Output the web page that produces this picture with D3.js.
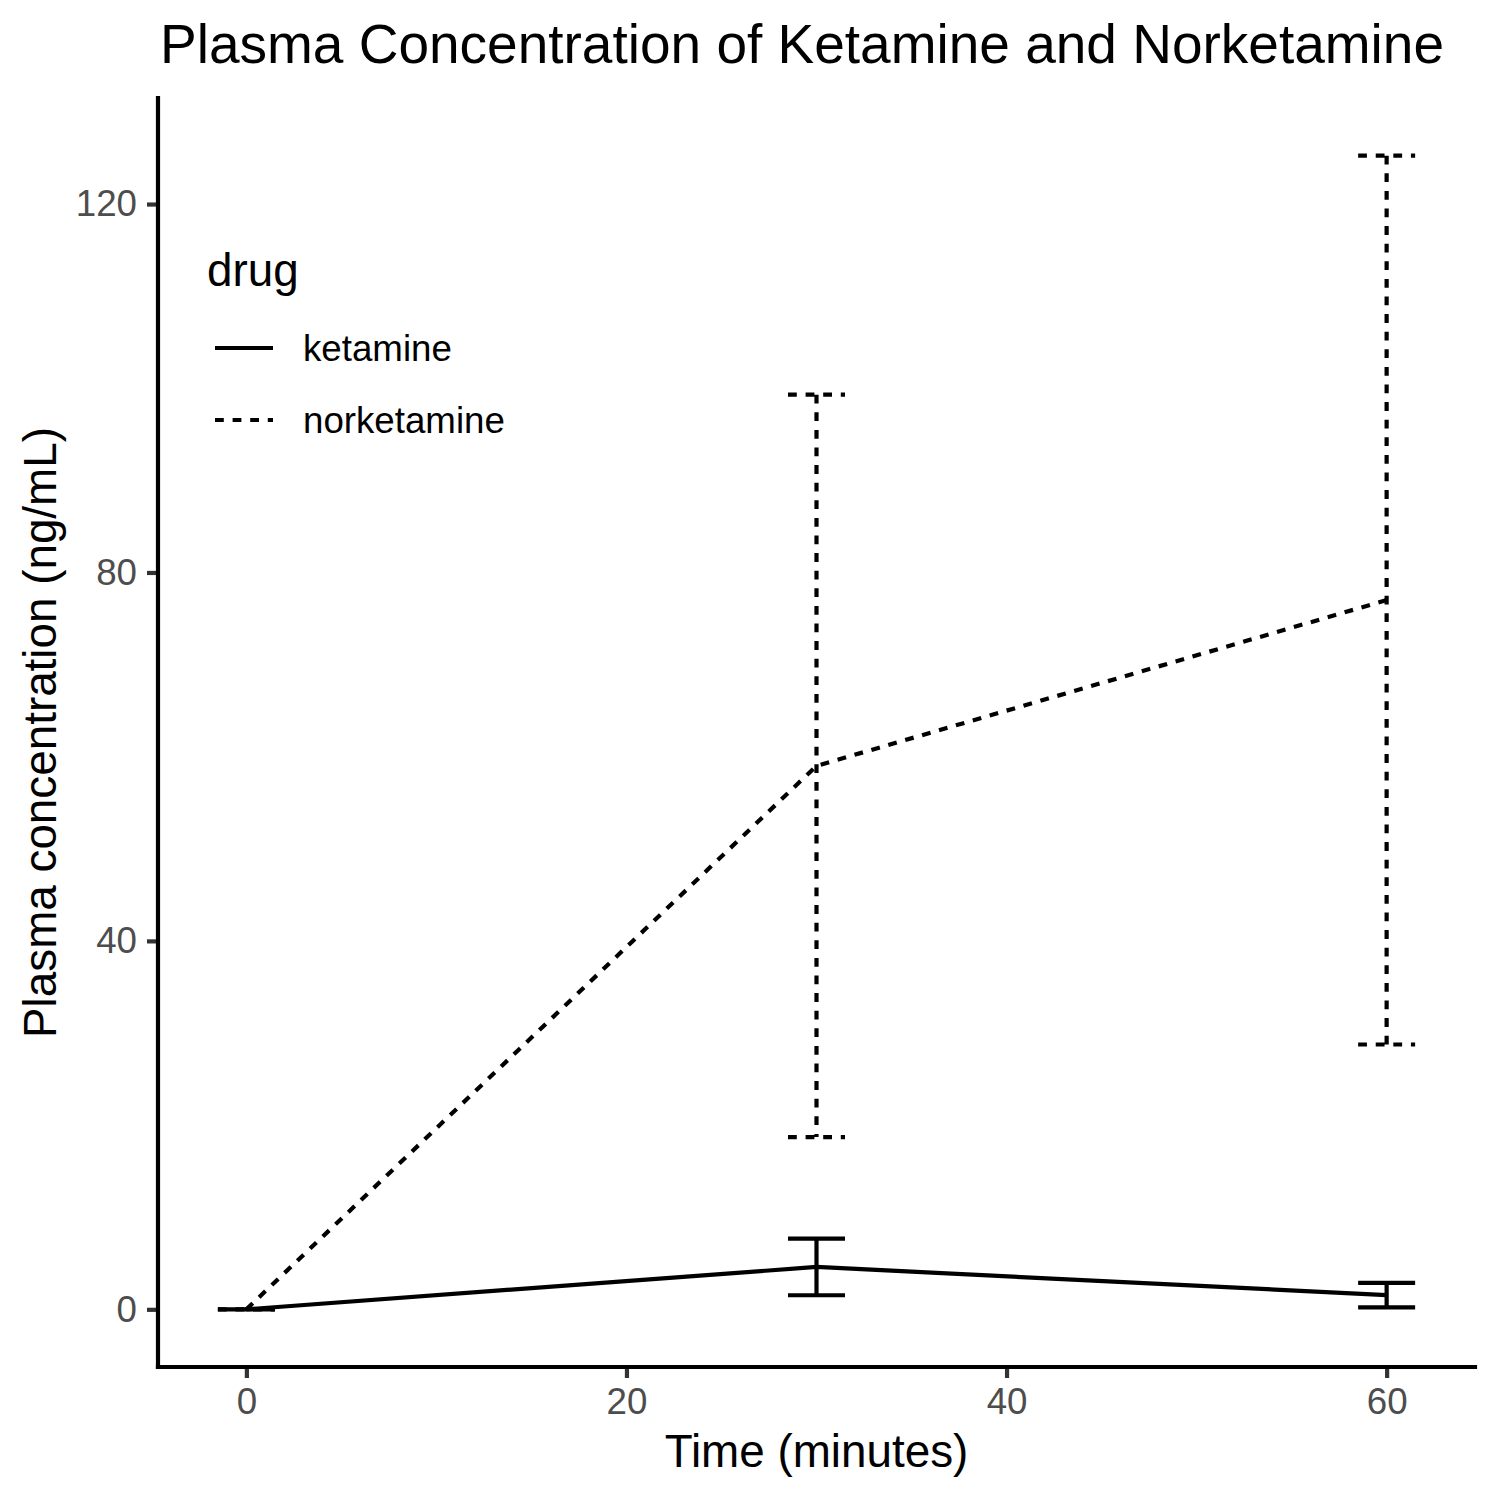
<!DOCTYPE html>
<html>
<head>
<meta charset="utf-8">
<script src="https://cdn.jsdelivr.net/npm/d3@7"></script>
<style>
  html, body { margin: 0; padding: 0; background: #fff; }
  svg { display: block; font-family: "Liberation Sans", Arial, Helvetica, sans-serif; }
</style>
</head>
<body>
<svg id="chart" width="1500" height="1500"></svg>
<script>
// ---- Data ----
const drugs = ["ketamine", "norketamine"];
const times = [0, 30, 60];
const ketamineMean = [0, 4.6, 1.55];
const ketamineSd = [0, 3.07, 1.33];
const norketamineMean = [0, 59.0, 77.0];
const norketamineSd = [0, 40.3, 48.25];
const xTicks = [0, 20, 40, 60];
const yTicks = [0, 40, 80, 120];
const errWidth = 3;

const titleText = "Plasma Concentration of Ketamine and Norketamine";
const xTitle = "Time (minutes)";
const yTitle = "Plasma concentration (ng/mL)";
const legendTitle = "drug";

const series = [
  { name: drugs[0], mean: ketamineMean, sd: ketamineSd, dash: null },
  { name: drugs[1], mean: norketamineMean, sd: norketamineSd, dash: "8.8,8.8" }
];

// ---- Layout ----
const panel = { left: 158, right: 1475, top: 98, bottom: 1367 };
const lw = 4.2;

// domains with 5% expansion like ggplot
const xmin = d3.min(times) - errWidth / 2, xmax = d3.max(times) + errWidth / 2;
const xpad = (xmax - xmin) * 0.05;
const allLo = [], allHi = [];
series.forEach(s => s.mean.forEach((m, i) => { allLo.push(m - s.sd[i]); allHi.push(m + s.sd[i]); }));
const ymin = d3.min(allLo), ymax = d3.max(allHi);
const ypad = (ymax - ymin) * 0.05;

const x = d3.scaleLinear().domain([xmin - xpad, xmax + xpad]).range([panel.left, panel.right]);
const y = d3.scaleLinear().domain([ymin - ypad, ymax + ypad]).range([panel.bottom, panel.top]);

const svg = d3.select("#chart");
svg.append("rect").attr("width", 1500).attr("height", 1500).attr("fill", "#fff");

// ---- Data marks ----
const line = d3.line().x(d => x(d.t)).y(d => y(d.v));
series.forEach(s => {
  const g = svg.append("g").attr("class", "series");
  const pts = times.map((t, i) => ({ t, v: s.mean[i], sd: s.sd[i] }));
  // error bars
  pts.forEach(p => {
    const path = d3.path();
    path.moveTo(x(p.t - errWidth / 2), y(p.v + p.sd));
    path.lineTo(x(p.t + errWidth / 2), y(p.v + p.sd));
    path.moveTo(x(p.t), y(p.v + p.sd));
    path.lineTo(x(p.t), y(p.v - p.sd));
    path.moveTo(x(p.t - errWidth / 2), y(p.v - p.sd));
    path.lineTo(x(p.t + errWidth / 2), y(p.v - p.sd));
    g.append("path").attr("d", path.toString())
      .attr("fill", "none").attr("stroke", "#000").attr("stroke-width", lw)
      .attr("stroke-dasharray", s.dash);
  });
  g.append("path").datum(pts).attr("d", line)
    .attr("fill", "none").attr("stroke", "#000").attr("stroke-width", lw)
    .attr("stroke-dasharray", s.dash);
});

// ---- Axes ----
const xAxis = d3.axisBottom(x).tickValues(xTicks).tickSize(11).tickPadding(10).tickSizeOuter(0);
const gx = svg.append("g").attr("transform", `translate(0,${panel.bottom})`).call(xAxis);
gx.select(".domain").remove();
gx.selectAll(".tick line").attr("stroke", "#333333").attr("stroke-width", lw);
gx.selectAll(".tick text").attr("fill", "#4d4d4d").style("font-size", "36.7px")
  .style("font-family", "'Liberation Sans', Arial, sans-serif");

const yAxis = d3.axisLeft(y).tickValues(yTicks).tickSize(11).tickPadding(10).tickSizeOuter(0);
const gy = svg.append("g").attr("transform", `translate(${panel.left},0)`).call(yAxis);
gy.select(".domain").remove();
gy.selectAll(".tick line").attr("stroke", "#333333").attr("stroke-width", lw);
gy.selectAll(".tick text").attr("fill", "#4d4d4d").style("font-size", "36.7px")
  .style("font-family", "'Liberation Sans', Arial, sans-serif");

// axis lines
svg.append("line").attr("x1", panel.left).attr("x2", panel.right)
  .attr("y1", panel.bottom).attr("y2", panel.bottom)
  .attr("stroke", "#000").attr("stroke-width", lw).attr("stroke-linecap", "square");
svg.append("line").attr("x1", panel.left).attr("x2", panel.left)
  .attr("y1", panel.top).attr("y2", panel.bottom)
  .attr("stroke", "#000").attr("stroke-width", lw).attr("stroke-linecap", "square");

// ---- Titles ----
svg.append("text").attr("x", 160).attr("y", 63)
  .style("font-size", "55px").attr("fill", "#000").text(titleText);
svg.append("text").attr("x", (panel.left + panel.right) / 2).attr("y", 1467)
  .attr("text-anchor", "middle").style("font-size", "45.8px").attr("fill", "#000").text(xTitle);
svg.append("text")
  .attr("transform", `translate(56,${(panel.top + panel.bottom) / 2}) rotate(-90)`)
  .attr("text-anchor", "middle").style("font-size", "45.8px").attr("fill", "#000").text(yTitle);

// ---- Legend ----
const lg = svg.append("g");
lg.append("text").attr("x", 207).attr("y", 286).style("font-size", "45.8px").text(legendTitle);
series.forEach((s, i) => {
  const yy = 348 + i * 72;
  lg.append("line").attr("x1", 215).attr("x2", 273).attr("y1", yy).attr("y2", yy)
    .attr("stroke", "#000").attr("stroke-width", lw).attr("stroke-dasharray", s.dash);
  lg.append("text").attr("x", 303).attr("y", yy).attr("dy", "0.35em")
    .style("font-size", "36.7px").text(s.name);
});
</script>
</body>
</html>
